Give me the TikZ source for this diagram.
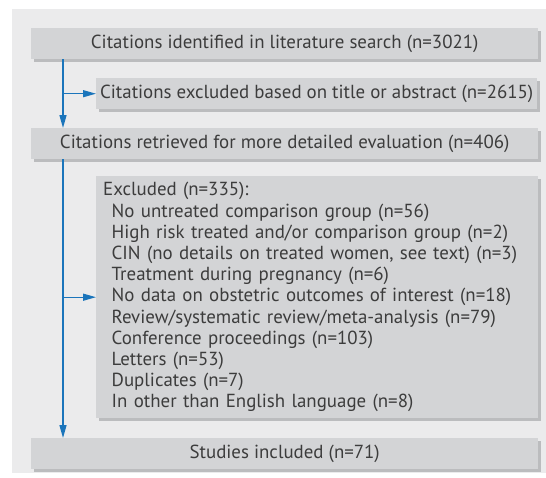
\documentclass[tikz,border=0pt]{standalone}
\usepackage{fontspec}
\setmainfont{PT Sans}
\usetikzlibrary{arrows.meta,shadows}
\definecolor{panelbg}{HTML}{EBEBEC}
\definecolor{boxfill}{HTML}{D3D4D6}
\definecolor{boxshade}{HTML}{BBBCBE}
\definecolor{flowblue}{HTML}{1B75BB}
\definecolor{txt}{HTML}{3C3C3C}
\begin{document}
\begin{tikzpicture}[x=1pt,y=-1pt,
  flowbox/.style={fill=boxfill, draw=none, anchor=north west, inner sep=0pt,
    text=txt, font=\fontsize{18.9}{21.2}\selectfont,
    drop shadow={shadow xshift=2.5pt, shadow yshift=-2.5pt, fill=boxshade, opacity=1}},
  flow/.style={draw=flowblue, line width=1.3pt},
  tip/.style={-{Triangle[length=13pt,width=7pt]}}
]
\useasboundingbox (0,0) rectangle (546,477);
% grey panel behind the chart
\fill[panelbg] (12,9) rectangle (546,473);

% boxes
\node[flowbox, minimum width=507pt, minimum height=31pt] (found) at (31,28)
  {Citations identified in literature search (n=3021)};
\node[flowbox, minimum width=441pt, minimum height=31pt] (excl1) at (96,78)
  {Citations excluded based on title or abstract (n=2615)};
\node[flowbox, minimum width=507pt, minimum height=31pt] (retr) at (31,128)
  {Citations retrieved for more detailed evaluation (n=406)};
\node[flowbox, minimum width=442pt, minimum height=242pt, inner xsep=7pt,
      text width=428pt, align=left] (excl2) at (96,176)
  {Excluded (n=335):\\
   \hspace*{8.5pt}No untreated comparison group (n=56)\\
   \hspace*{8.5pt}High risk treated and/or comparison group (n=2)\\
   \hspace*{8.5pt}CIN (no details on treated women, see text) (n=3)\\
   \hspace*{8.5pt}Treatment during pregnancy (n=6)\\
   \hspace*{8.5pt}No data on obstetric outcomes of interest (n=18)\\
   \hspace*{8.5pt}Review/systematic review/meta-analysis (n=79)\\
   \hspace*{8.5pt}Conference proceedings (n=103)\\
   \hspace*{8.5pt}Letters (n=53)\\
   \hspace*{8.5pt}Duplicates (n=7)\\
   \hspace*{8.5pt}In other than English language (n=8)};
\node[flowbox, minimum width=507pt, minimum height=31pt] (incl) at (31,438)
  {Studies included (n=71)};

% trunk and branches
\coordinate (trunk) at (63,0);
\draw[flow, tip] (found.south -| trunk) -- (retr.north -| trunk);
\draw[flow, tip] (retr.south -| trunk) -- (incl.north -| trunk);
\draw[flow, tip] (excl1.west -| trunk) -- (excl1.west);
\draw[flow, tip] (excl2.west -| trunk) -- (excl2.west);
\end{tikzpicture}
\end{document}
